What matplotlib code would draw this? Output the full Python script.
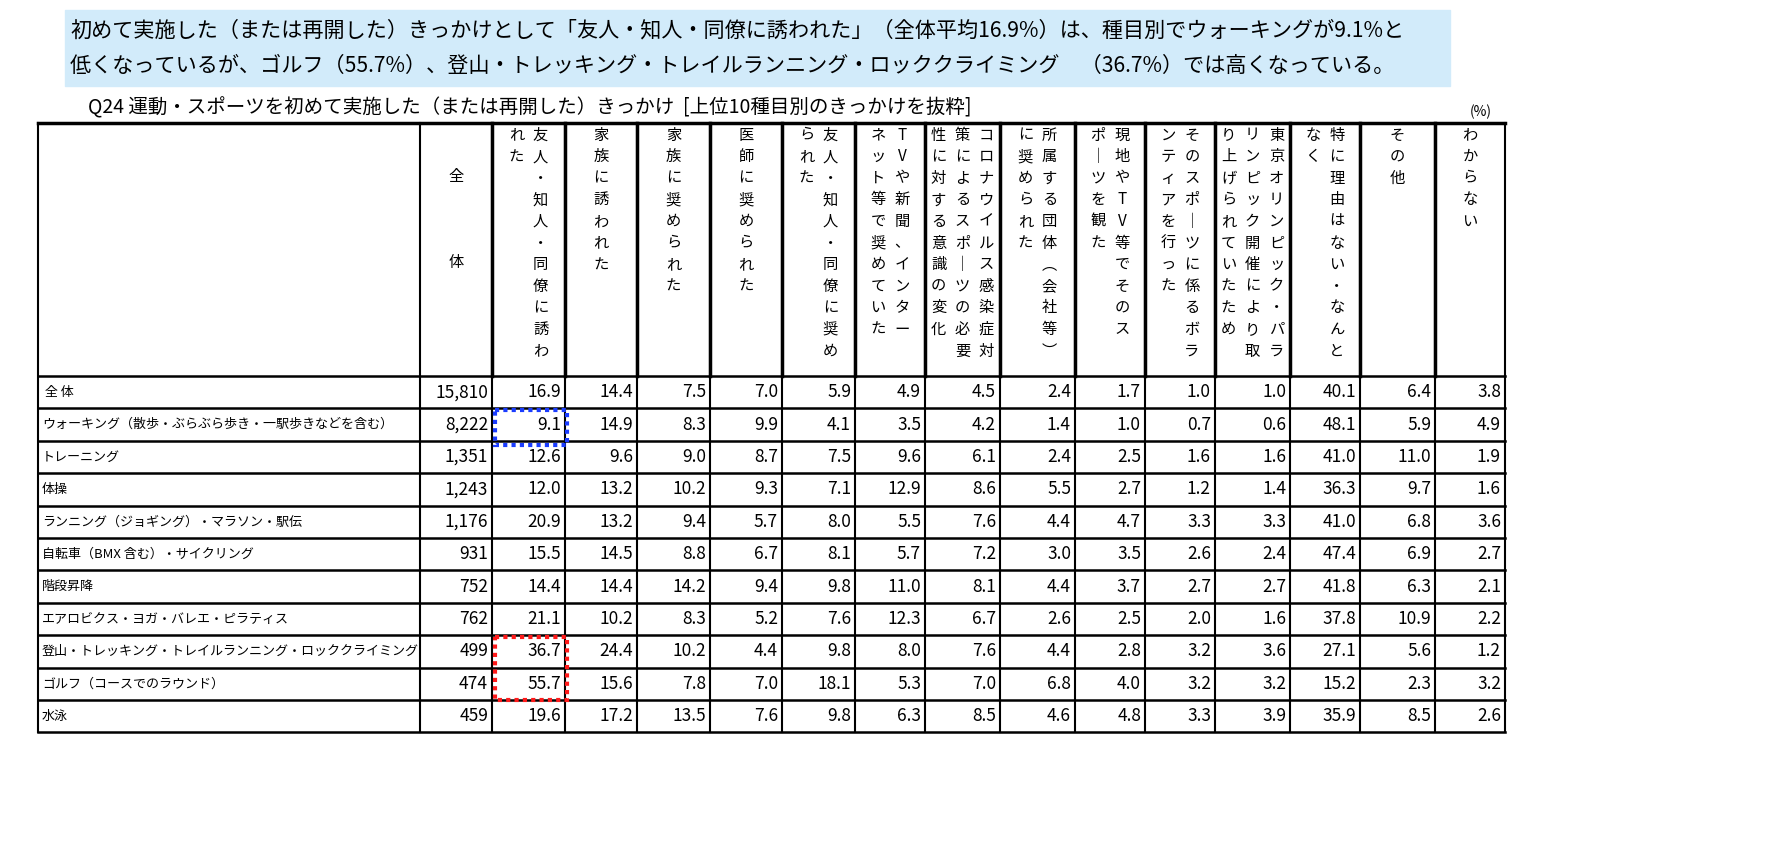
import matplotlib.pyplot as plt
from matplotlib.patches import Rectangle

plt.rcParams['font.family'] = ['Noto Sans CJK JP', 'DejaVu Sans']

# --- DATA ---
title_lines = [
    "初めて実施した（または再開した）きっかけとして「友人・知人・同僚に誘われた」（全体平均16.9%）は、種目別でウォーキングが9.1%と",
    "低くなっているが、ゴルフ（55.7%）、登山・トレッキング・トレイルランニング・ロッククライミング　（36.7%）では高くなっている。",
]
subtitle = "Q24 運動・スポーツを初めて実施した（または再開した）きっかけ  [上位10種目別のきっかけを抜粋]"

# each header: vertical text columns, right to left
headers = [
    ["全", "", "体"],
    ["友人・知人・同僚に誘わ", "れた"],
    ["家族に誘われた"],
    ["家族に奨められた"],
    ["医師に奨められた"],
    ["友人・知人・同僚に奨め", "られた"],
    ["TVや新聞、インター", "ネット等で奨めていた"],
    ["コロナウイルス感染症対", "策によるスポ｜ツの必要", "性に対する意識の変化"],
    ["所属する団体︵会社等︶", "に奨められた"],
    ["現地やTV等でそのス", "ポ｜ツを観た"],
    ["そのスポ｜ツに係るボラ", "ンティアを行った"],
    ["東京オリンピック・パラ", "リンピック開催により取", "り上げられていたため"],
    ["特に理由はない・なんと", "なく"],
    ["その他"],
    ["わからない"],
]

row_labels = [
    " 全 体",
    "ウォーキング（散歩・ぶらぶら歩き・一駅歩きなどを含む）",
    "トレーニング",
    "体操",
    "ランニング（ジョギング）・マラソン・駅伝",
    "自転車（BMX 含む）・サイクリング",
    "階段昇降",
    "エアロビクス・ヨガ・バレエ・ピラティス",
    "登山・トレッキング・トレイルランニング・ロッククライミング",
    "ゴルフ（コースでのラウンド）",
    "水泳",
]
n_total = ["15,810", "8,222", "1,351", "1,243", "1,176", "931", "752", "762", "499", "474", "459"]
values = [
    [16.9, 14.4, 7.5, 7.0, 5.9, 4.9, 4.5, 2.4, 1.7, 1.0, 1.0, 40.1, 6.4, 3.8],
    [9.1, 14.9, 8.3, 9.9, 4.1, 3.5, 4.2, 1.4, 1.0, 0.7, 0.6, 48.1, 5.9, 4.9],
    [12.6, 9.6, 9.0, 8.7, 7.5, 9.6, 6.1, 2.4, 2.5, 1.6, 1.6, 41.0, 11.0, 1.9],
    [12.0, 13.2, 10.2, 9.3, 7.1, 12.9, 8.6, 5.5, 2.7, 1.2, 1.4, 36.3, 9.7, 1.6],
    [20.9, 13.2, 9.4, 5.7, 8.0, 5.5, 7.6, 4.4, 4.7, 3.3, 3.3, 41.0, 6.8, 3.6],
    [15.5, 14.5, 8.8, 6.7, 8.1, 5.7, 7.2, 3.0, 3.5, 2.6, 2.4, 47.4, 6.9, 2.7],
    [14.4, 14.4, 14.2, 9.4, 9.8, 11.0, 8.1, 4.4, 3.7, 2.7, 2.7, 41.8, 6.3, 2.1],
    [21.1, 10.2, 8.3, 5.2, 7.6, 12.3, 6.7, 2.6, 2.5, 2.0, 1.6, 37.8, 10.9, 2.2],
    [36.7, 24.4, 10.2, 4.4, 9.8, 8.0, 7.6, 4.4, 2.8, 3.2, 3.6, 27.1, 5.6, 1.2],
    [55.7, 15.6, 7.8, 7.0, 18.1, 5.3, 7.0, 6.8, 4.0, 3.2, 3.2, 15.2, 2.3, 3.2],
    [19.6, 17.2, 13.5, 7.6, 9.8, 6.3, 8.5, 4.6, 4.8, 3.3, 3.9, 35.9, 8.5, 2.6],
]
blue_boxes = [(1, 1)]          # (row, col) with col 1 = 友人・知人・同僚に誘われた
red_boxes = [(8, 1), (9, 1)]

# --- LAYOUT ---
fig = plt.figure(figsize=(17.68, 8.56), dpi=100)
ax = fig.add_axes([0, 0, 1, 1])
ax.set_xlim(0, 1768)
ax.set_ylim(856, 0)
ax.axis('off')

ax.add_patch(Rectangle((65, 10), 1385, 76, color='#d2ebfa', zorder=0))
for i, line in enumerate(title_lines):
    ax.text(70, 30 + i * 36, line, fontsize=15.2, va='center', ha='left')
ax.text(88, 108, subtitle, fontsize=14, va='center', ha='left')
ax.text(1492, 112, "(%)", fontsize=10, va='center', ha='right')

x_edges = [38, 420, 492, 565, 637, 710, 782, 855, 925, 1000, 1075, 1145, 1215, 1290, 1360, 1435, 1505]
y_top, y_head = 123, 376
row_h = 32.4
y_edges = [y_head + i * row_h for i in range(len(row_labels) + 1)]
y_bot = y_edges[-1]

# grid lines
ax.plot([x_edges[0], x_edges[-1]], [y_top, y_top], color='black', lw=2.5)
for y in y_edges:
    ax.plot([x_edges[0], x_edges[-1]], [y, y], color='black', lw=1.8)
for x in x_edges:
    ax.plot([x, x], [y_top, y_bot], color='black', lw=1.5)
for x in x_edges[2:-1]:
    ax.plot([x, x], [y_top, y_head], color='black', lw=2.5)

# headers (vertical text)
step = 21.6
for j, cols in enumerate(headers):
    x0, x1 = x_edges[j + 1], x_edges[j + 2]
    cx = (x0 + x1) / 2
    ncol = len(cols)
    gap = 24
    for k, s in enumerate(cols):
        xk = cx + (ncol - 1) / 2 * gap - k * gap
        if j == 0:
            y0 = 176 + k * 43
            if s:
                ax.text(cx, y0, s, fontsize=11, ha='center', va='center')
            continue
        for m, ch in enumerate(s):
            ax.text(xk, 135 + m * step, ch, fontsize=11, ha='center', va='center')

# body
for i, lab in enumerate(row_labels):
    yc = (y_edges[i] + y_edges[i + 1]) / 2
    ax.text(x_edges[0] + 4, yc, lab, fontsize=9.4, ha='left', va='center')
    ax.text(x_edges[2] - 4, yc, n_total[i], fontsize=12.5, ha='right', va='center')
    for j, v in enumerate(values[i]):
        ax.text(x_edges[j + 3] - 4, yc, f"{v:.1f}", fontsize=12.5, ha='right', va='center')

for r, c in blue_boxes:
    x0, x1 = x_edges[c + 1] + 3, x_edges[c + 2] + 2
    ax.add_patch(Rectangle((x0, y_edges[r] + 2), x1 - x0, row_h + 2, fill=False,
                           ec='#1a3cff', lw=3, ls=(0, (1, 1)), zorder=5))
# red boxes merged into one block
r0, r1 = red_boxes[0][0], red_boxes[-1][0]
x0, x1 = x_edges[2] + 3, x_edges[3] + 2
ax.add_patch(Rectangle((x0, y_edges[r0] + 2), x1 - x0, y_edges[r1 + 1] - y_edges[r0] - 2,
                       fill=False, ec='#ff1a1a', lw=3, ls=(0, (1, 1)), zorder=5))

fig.savefig('out.png', dpi=100)
